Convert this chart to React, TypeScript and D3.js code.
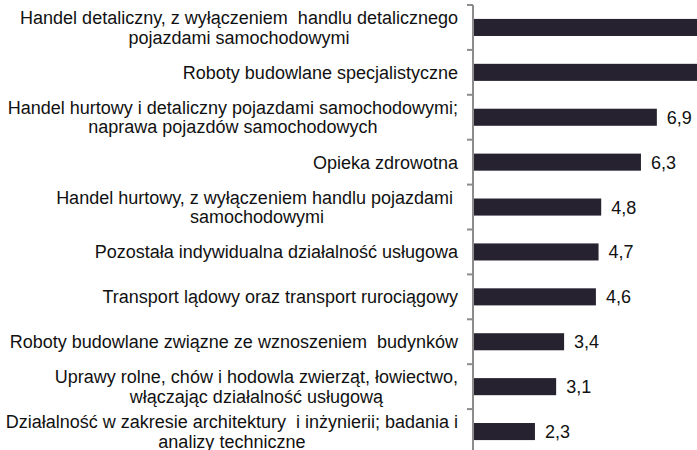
import React, { useRef, useEffect } from "react";
import { select, scaleLinear, scaleBand } from "d3";

// kategorie (linie rozdzielone \n), wartości i etykiety wartości
const categories = [
    "Handel detaliczny, z wyłączeniem  handlu detalicznego\npojazdami samochodowymi",
    "Roboty budowlane specjalistyczne",
    "Handel hurtowy i detaliczny pojazdami samochodowymi;\nnaprawa pojazdów samochodowych",
    "Opieka zdrowotna",
    "Handel hurtowy, z wyłączeniem handlu pojazdami \nsamochodowymi",
    "Pozostała indywidualna działalność usługowa",
    "Transport lądowy oraz transport rurociągowy",
    "Roboty budowlane związne ze wznoszeniem  budynków",
    "Uprawy rolne, chów i hodowla zwierząt, łowiectwo,\nwłączając działalność usługową",
    "Działalność w zakresie architektury  i inżynierii; badania i\nanalizy techniczne",
];
const values = [10.4, 9.1, 6.9, 6.3, 4.8, 4.7, 4.6, 3.4, 3.1, 2.3];
const valueLabels = values.map(v => v.toFixed(1).replace(".", ","));

const width = 697;
const height = 450;
const FONT = "'Liberation Sans', Arial, sans-serif";

export default function App() {
    const svgRef = useRef<SVGSVGElement>(null);

    useEffect(() => {
        const svg = select(svgRef.current);
        svg.selectAll("*").remove();

        const axisX = 473;
        const xScale = scaleLinear().domain([0, 10]).range([axisX + 1, axisX + 1 + 265]);
        const yScale = scaleBand<string>()
            .domain(categories)
            .range([5, 454])
            .paddingInner(0.62)
            .paddingOuter(0.31);
        const step = yScale.step();
        const bw = yScale.bandwidth();
        const center = (c: string) => (yScale(c) as number) + bw / 2;

        // bars
        svg.selectAll(".bar")
            .data(values)
            .join("rect")
            .attr("class", "bar")
            .attr("x", xScale(0))
            .attr("y", (d, i) => yScale(categories[i]) as number)
            .attr("width", d => xScale(d) - xScale(0))
            .attr("height", bw)
            .attr("fill", "#262230");

        // axis line + ticks at band boundaries
        svg.append("line")
            .attr("x1", axisX).attr("x2", axisX)
            .attr("y1", 5).attr("y2", 454)
            .attr("stroke", "#8c8c8c").attr("stroke-width", 2);
        const ticks = categories.map(c => center(c) - step / 2).concat([454]);
        svg.selectAll(".tick")
            .data(ticks)
            .join("line")
            .attr("class", "tick")
            .attr("x1", axisX - 6).attr("x2", axisX)
            .attr("y1", d => d).attr("y2", d => d)
            .attr("stroke", "#8c8c8c").attr("stroke-width", 2);

        // value labels (the ones past the right edge are off the picture anyway)
        const shown = values
            .map((v, i) => ({ v, i }))
            .filter(d => xScale(d.v) + 40 < width);
        svg.selectAll(".value")
            .data(shown)
            .join("text")
            .attr("class", "value")
            .attr("x", d => xScale(d.v) + 10)
            .attr("y", d => center(categories[d.i]))
            .attr("dy", "0.36em")
            .attr("font-family", FONT)
            .attr("font-size", 18)
            .attr("fill", "#111")
            .text(d => valueLabels[d.i]);

        // category labels, block right-aligned, lines centred
        const labelRight = 458;
        const lineH = 19.5;
        categories.forEach(c => {
            const lines = c.split("\n");
            const t = svg.append("text")
                .attr("font-family", FONT)
                .attr("font-size", 18)
                .attr("fill", "#111")
                .attr("text-anchor", "middle")
                .style("white-space", "pre");
            const spans = lines.map((ln, j) =>
                t.append("tspan")
                    .attr("y", center(c) + (j - (lines.length - 1) / 2) * lineH)
                    .attr("dy", "0.36em")
                    .text(ln)
            );
            const maxW = Math.max(...spans.map(s => (s.node() as SVGTSpanElement).getComputedTextLength()));
            spans.forEach(s => s.attr("x", labelRight - maxW / 2));
        });
    }, []);

    return (
        <svg
            ref={svgRef}
            width={width}
            height={height}
            style={{ position: "absolute", left: 0, top: 0, background: "#fff" }}
        />
    );
}
